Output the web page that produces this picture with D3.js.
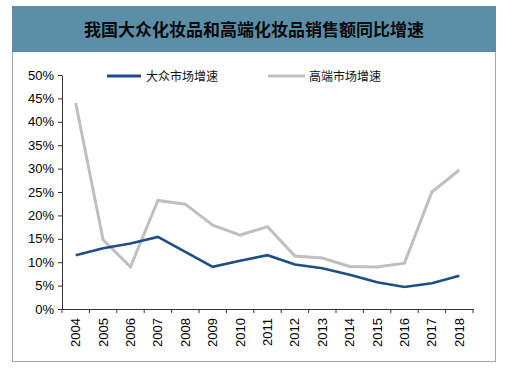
<!DOCTYPE html>
<html><head><meta charset="utf-8">
<script src="https://cdn.jsdelivr.net/npm/d3@7"></script>
<style>body{margin:0;background:#fff}svg{display:block}</style>
</head><body>
<script>
const years = ["2004","2005","2006","2007","2008","2009","2010","2011","2012","2013","2014","2015","2016","2017","2018"];
const massGrowth = [11.5,13.0,14.0,15.4,12.2,9.0,10.3,11.5,9.5,8.7,7.3,5.7,4.7,5.5,7.1];
const premiumGrowth = [44.0,14.8,9.0,23.2,22.4,17.9,15.8,17.6,11.3,10.9,9.1,9.0,9.8,25.0,29.7];
const yTicks = [0,5,10,15,20,25,30,35,40,45,50];
const seriesNames = ["大众市场增速","高端市场增速"];
const title = "我国大众化妆品和高端化妆品销售额同比增速";

const W = 511, H = 371;
const svg = d3.select("body").append("svg").attr("width", W).attr("height", H);

// frame
svg.append("rect").attr("x",12.5).attr("y",6.5).attr("width",483).attr("height",355)
  .attr("fill","#fff").attr("stroke","#a6a6a6").attr("stroke-width",1);
svg.append("rect").attr("x",12).attr("y",6).attr("width",484).attr("height",46).attr("fill","#5b8fa8");
svg.append("text").attr("x",254).attr("y",35.5).attr("text-anchor","middle")
  .attr("font-family","Noto Sans CJK SC").attr("font-weight","bold").attr("font-size",17)
  .attr("fill","#0a0a0a").text(title);

const x = d3.scaleBand().domain(years).range([62,473]);
const y = d3.scaleLinear().domain([0,50]).range([309,75]);

const yAxis = svg.append("g").attr("transform","translate(62,0)")
  .call(d3.axisLeft(y).tickValues(yTicks).tickFormat(d=>d+"%").tickSize(4).tickSizeOuter(0));
yAxis.selectAll("text").attr("font-family","Liberation Sans, Arial").attr("font-size",13).attr("fill","#000").attr("x",-8);
yAxis.selectAll("line,path").attr("stroke","#333");

const xAxis = svg.append("g").attr("transform","translate(0,309)")
  .call(d3.axisBottom(x).tickSize(0).tickSizeOuter(0));
xAxis.select("path").attr("stroke","#333");
xAxis.selectAll(".tick line").remove();
xAxis.selectAll("text").attr("font-family","Liberation Sans, Arial").attr("font-size",13).attr("fill","#000")
  .attr("transform","rotate(-90)").attr("text-anchor","end").attr("x",-9).attr("y",0).attr("dy","0.35em");
// tick marks at band boundaries
const bounds = years.map(d=>x(d)).concat([x(years[years.length-1])+x.bandwidth()]);
svg.append("g").selectAll("line").data(bounds).join("line")
  .attr("x1",d=>d).attr("x2",d=>d).attr("y1",309).attr("y2",313).attr("stroke","#333");

const line = d3.line().x((d,i)=>x(years[i])+x.bandwidth()/2).y(d=>y(d));
svg.append("path").datum(premiumGrowth).attr("d",line).attr("fill","none")
  .attr("stroke","#bfbfbf").attr("stroke-width",3);
svg.append("path").datum(massGrowth).attr("d",line).attr("fill","none")
  .attr("stroke","#1f4e86").attr("stroke-width",2.6);

// legend
const leg = [{c:"#1f4e86",x1:107,x2:141,tx:146},{c:"#bfbfbf",x1:268,x2:305,tx:309}];
leg.forEach((l,i)=>{
  svg.append("line").attr("x1",l.x1).attr("x2",l.x2).attr("y1",76).attr("y2",76)
    .attr("stroke",l.c).attr("stroke-width",3);
  svg.append("text").attr("x",l.tx).attr("y",80.5).attr("font-family","Noto Sans CJK SC")
    .attr("font-size",12).attr("fill","#111").text(seriesNames[i]);
});
</script>
</body></html>
